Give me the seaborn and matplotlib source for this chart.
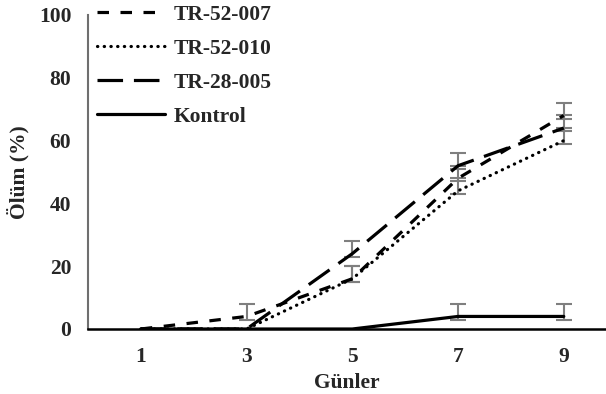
import matplotlib
matplotlib.use("Agg")
import matplotlib.pyplot as plt
import seaborn as sns
import pandas as pd
from matplotlib.lines import Line2D

days = [1, 3, 5, 7, 9]
series_names = ["TR-52-007", "TR-52-010", "TR-28-005", "Kontrol"]
tr52_007 = [0, 4, 16, 48, 68]
tr52_010 = [0, 0, 16, 44, 60]
tr28_005 = [0, 0, 24, 52, 64]
kontrol = [0, 0, 0, 4, 4]
# error bars (upper / lower), 0 where none drawn
err_up = {
    "TR-52-007": [0, 4, 4, 4, 4],
    "TR-52-010": [0, 0, 4, 4, 4],
    "TR-28-005": [0, 0, 4, 4, 4],
    "Kontrol": [0, 0, 0, 4, 4],
}
err_lo = {
    "TR-52-007": [0, 1, 1, 1, 1],
    "TR-52-010": [0, 0, 1, 1, 1],
    "TR-28-005": [0, 0, 1, 1, 1],
    "Kontrol": [0, 0, 0, 1, 1],
}
y_ticks = [0, 20, 40, 60, 80, 100]

values = {"TR-52-007": tr52_007, "TR-52-010": tr52_010,
          "TR-28-005": tr28_005, "Kontrol": kontrol}
rows = []
for name in series_names:
    for d, v in zip(days, values[name]):
        rows.append({"Gün": d, "Ölüm": v, "Seri": name})
df = pd.DataFrame(rows)

sns.set_theme(style="white")
plt.rcParams["font.family"] = ["Liberation Serif", "DejaVu Serif"]
plt.rcParams["font.weight"] = "bold"

FS = 15.5
fig = plt.figure(figsize=(6.06, 3.94), dpi=100)
W, H = 606, 394
ax = fig.add_axes([88 / W, 1 - 329 / H, (605 - 88) / W, (329 - 15) / H])

dash_map = {
    "TR-52-007": (3.6, 3.6),
    "TR-52-010": (0.1, 2.0),
    "TR-28-005": (8.0, 3.4),
    "Kontrol": "",
}
lw = 2.3
for name in series_names:
    vals = values[name]
    xs, ys, lo, up = [], [], [], []
    for d, v, l, u in zip(days, vals, err_lo[name], err_up[name]):
        if u > 0 or l > 0:
            xs.append(d); ys.append(v); lo.append(l); up.append(u)
    if xs:
        ax.errorbar(xs, ys, yerr=[lo, up], fmt="none", ecolor="#7f7f7f",
                    elinewidth=1.5, capsize=6, capthick=1.5, zorder=2)

sns.lineplot(data=df, x="Gün", y="Ölüm", style="Seri", style_order=series_names,
             dashes=dash_map, color="black", linewidth=lw, legend=False,
             ax=ax, zorder=3)
for ln, name in zip(ax.lines[-len(series_names):], series_names):
    if name == "TR-52-010":
        ln.set_dash_capstyle("round")

ax.set_xlim(0, 9.78)
ax.set_ylim(0, 100)
ax.set_xticks(days)
ax.set_xticklabels([str(d) for d in days])
ax.set_yticks(y_ticks)
ax.tick_params(axis="both", length=0, labelsize=FS)
ax.tick_params(axis="y", pad=12)
ax.tick_params(axis="x", pad=13)
for lab in ax.get_xticklabels() + ax.get_yticklabels():
    lab.set_fontweight("bold")

for s in ["top", "right"]:
    ax.spines[s].set_visible(False)
ax.spines["left"].set_color("#6f6f6f")
ax.spines["left"].set_linewidth(1.5)
ax.spines["bottom"].set_color("black")
ax.spines["bottom"].set_linewidth(1.8)

ax.set_xlabel("Günler", fontsize=FS, fontweight="bold", labelpad=4)
ax.set_ylabel("Ölüm (%)", fontsize=FS, fontweight="bold", labelpad=7)

handles = []
for name in series_names:
    d = dash_map[name]
    h = Line2D([0], [0], color="black", linewidth=lw)
    if d:
        h.set_dashes(d)
    if name == "TR-52-010":
        h.set_dash_capstyle("round")
    handles.append(h)
leg = ax.legend(handles, series_names, loc="upper left",
                bbox_to_anchor=(-0.012, 1.08), frameon=False,
                handlelength=3.15, handletextpad=0.4, labelspacing=0.64,
                borderaxespad=0.3,
                prop={"weight": "bold", "size": FS})

fig.savefig("out.png", dpi=100)
